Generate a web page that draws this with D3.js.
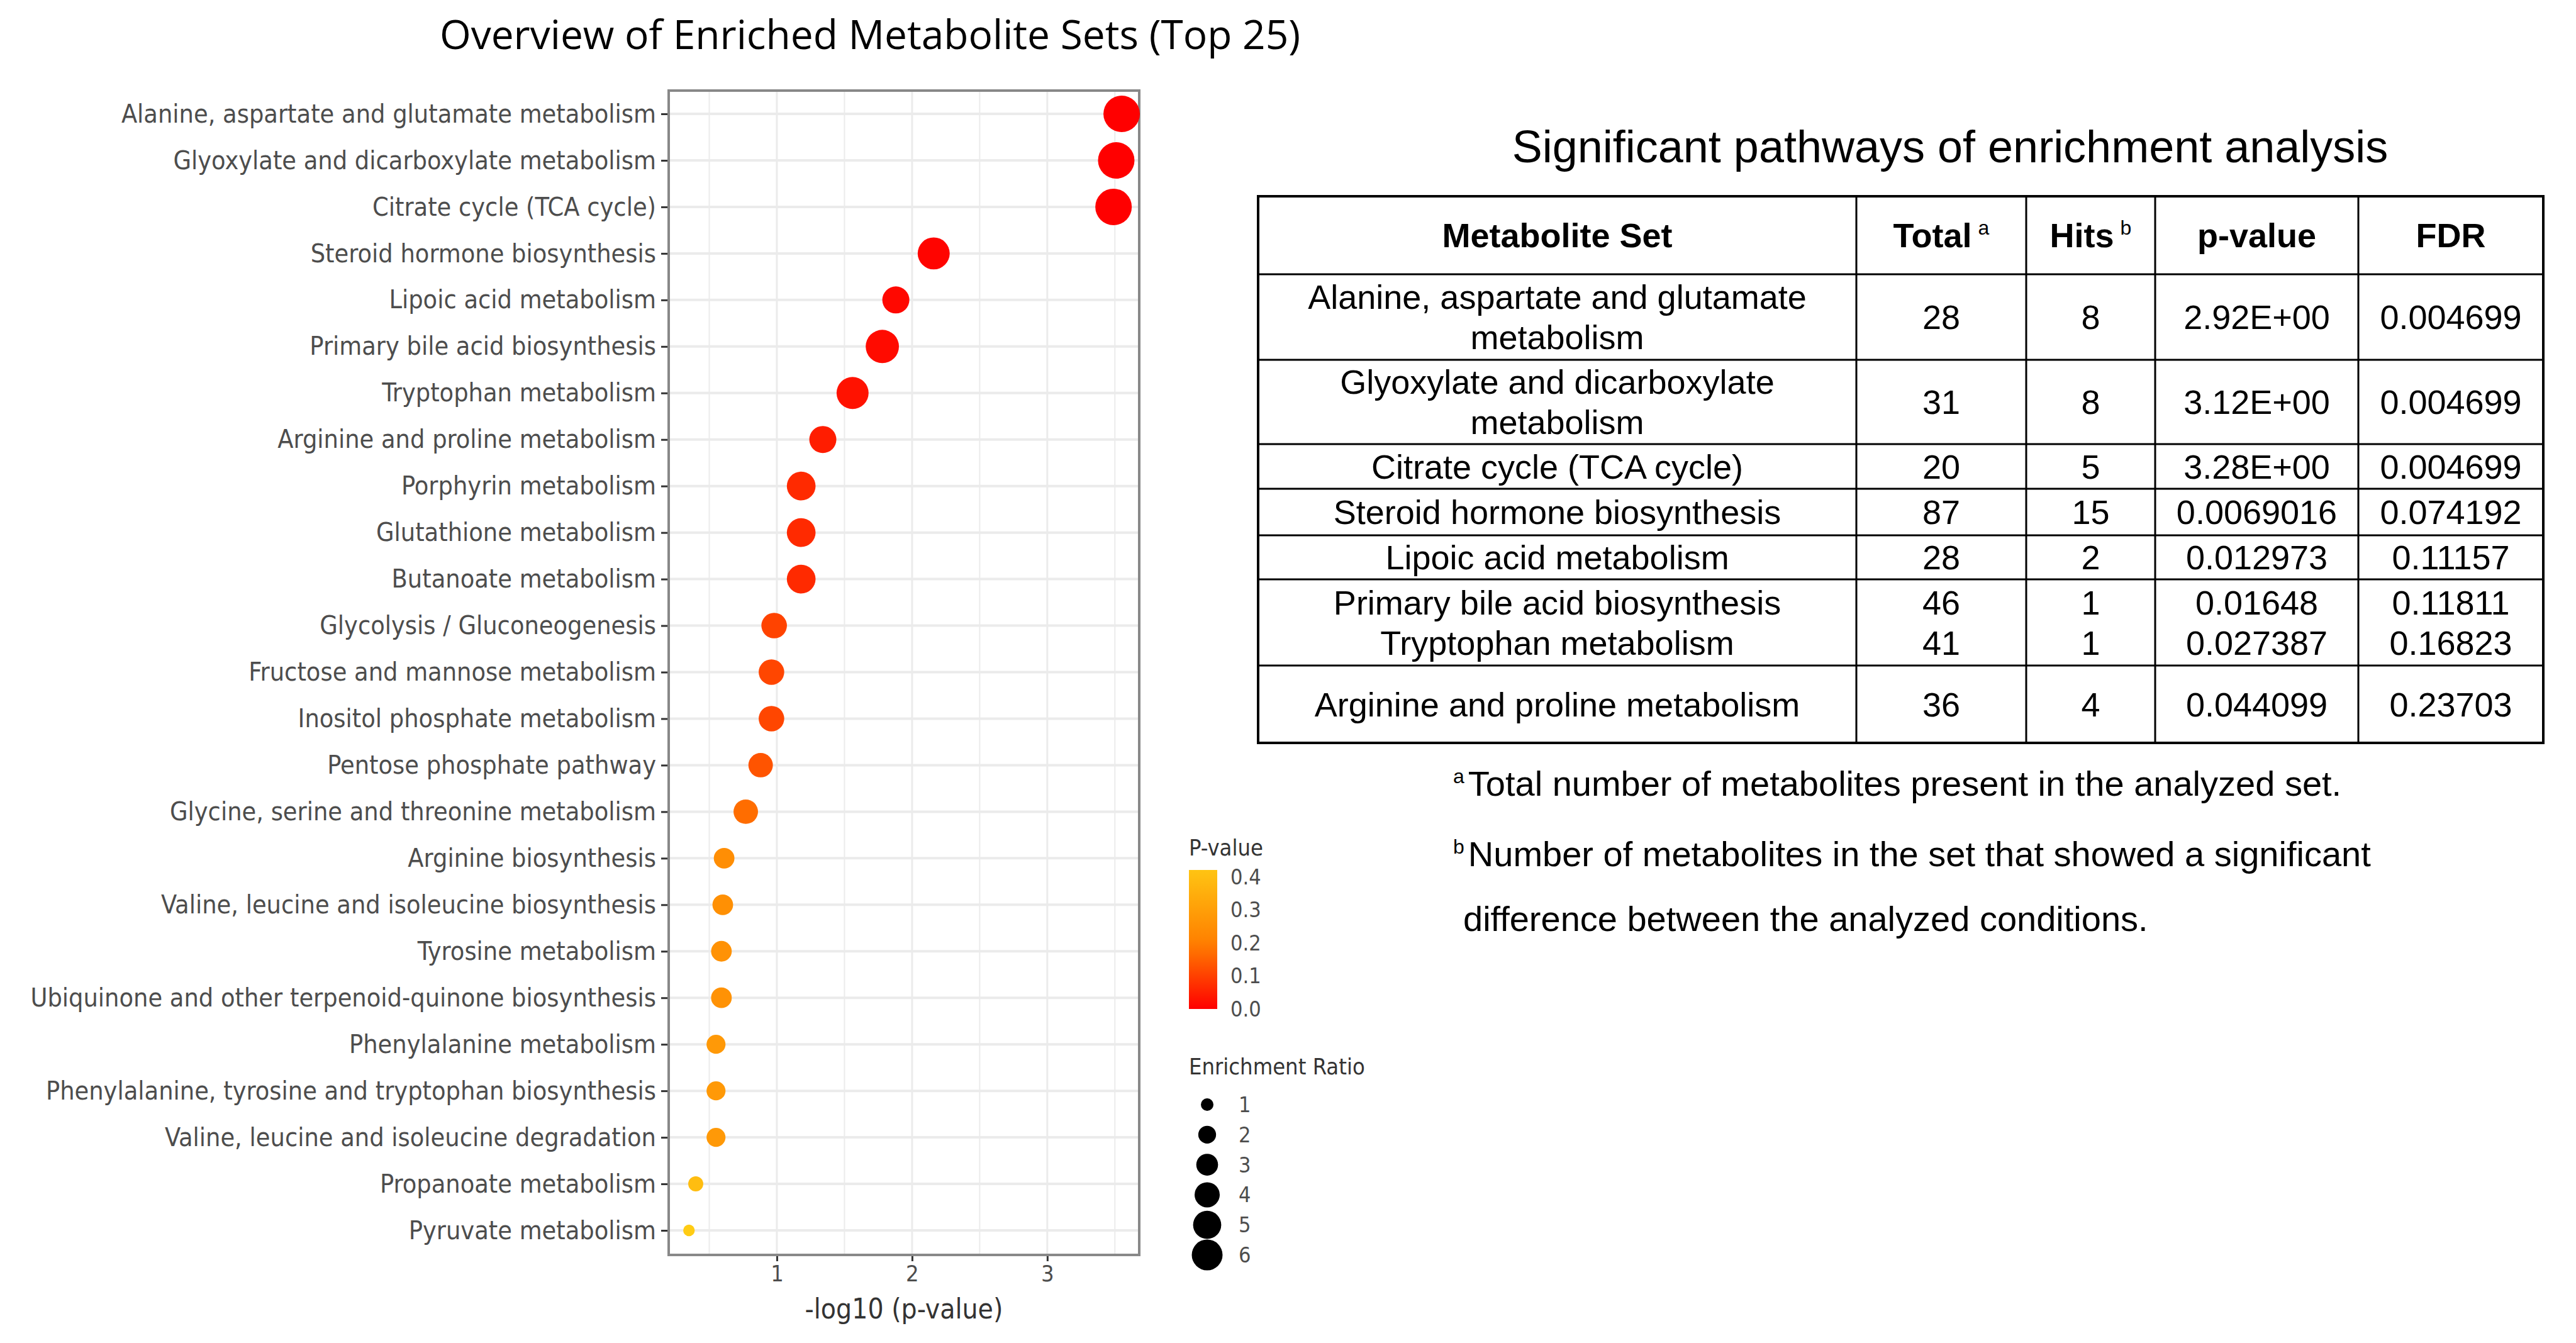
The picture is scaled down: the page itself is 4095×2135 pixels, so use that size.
<!DOCTYPE html>
<html>
<head>
<meta charset="utf-8">
<script src="https://cdn.jsdelivr.net/npm/d3@7"></script>
<style>
  body { margin: 0; background: #fff; }
  svg { display: block; }
</style>
</head>
<body>
<div id="plot"></div>
<script>
const W = 4095, H = 2135;

const pathways = ["Alanine, aspartate and glutamate metabolism", "Glyoxylate and dicarboxylate metabolism",
  "Citrate cycle (TCA cycle)", "Steroid hormone biosynthesis", "Lipoic acid metabolism",
  "Primary bile acid biosynthesis", "Tryptophan metabolism", "Arginine and proline metabolism",
  "Porphyrin metabolism", "Glutathione metabolism", "Butanoate metabolism",
  "Glycolysis / Gluconeogenesis", "Fructose and mannose metabolism", "Inositol phosphate metabolism",
  "Pentose phosphate pathway", "Glycine, serine and threonine metabolism", "Arginine biosynthesis",
  "Valine, leucine and isoleucine biosynthesis", "Tyrosine metabolism",
  "Ubiquinone and other terpenoid-quinone biosynthesis", "Phenylalanine metabolism",
  "Phenylalanine, tyrosine and tryptophan biosynthesis", "Valine, leucine and isoleucine degradation",
  "Propanoate metabolism", "Pyruvate metabolism"];
const negLogP = [3.55, 3.51, 3.49, 2.16, 1.88, 1.78, 1.56, 1.34, 1.18, 1.18, 1.18, 0.98, 0.96, 0.96,
  0.88, 0.77, 0.61, 0.60, 0.59, 0.59, 0.55, 0.55, 0.55, 0.40, 0.35];
const enrichment = [10, 10, 10, 7.7, 5.5, 8.3, 7.7, 5.5, 6.2, 6.2, 6.2, 4.9, 4.9, 4.9,
  4.5, 4.5, 3.2, 3.2, 3.2, 3.2, 2.7, 2.7, 2.7, 1.7, 1.0];
const xTicks = [1, 2, 3];
const pLegendTicks = [0.0, 0.1, 0.2, 0.3, 0.4];
const sizeLegend = [1, 2, 3, 4, 5, 6];

const tableHeader = ["Metabolite Set", "Total", "Hits", "p-value", "FDR"];
const tableSets = [["Alanine, aspartate and glutamate", "metabolism"], ["Glyoxylate and dicarboxylate", "metabolism"],
  ["Citrate cycle (TCA cycle)"], ["Steroid hormone biosynthesis"], ["Lipoic acid metabolism"],
  ["Primary bile acid biosynthesis", "Tryptophan metabolism"], ["Arginine and proline metabolism"]];
const tableTotal = [["28"], ["31"], ["20"], ["87"], ["28"], ["46", "41"], ["36"]];
const tableHits = [["8"], ["8"], ["5"], ["15"], ["2"], ["1", "1"], ["4"]];
const tablePval = [["2.92E+00"], ["3.12E+00"], ["3.28E+00"], ["0.0069016"], ["0.012973"], ["0.01648", "0.027387"], ["0.044099"]];
const tableFdr = [["0.004699"], ["0.004699"], ["0.004699"], ["0.074192"], ["0.11157"], ["0.11811", "0.16823"], ["0.23703"]];

const svg = d3.select("#plot").append("svg").attr("width", W).attr("height", H);

// ---- dot plot ----
const M = {left: 1063, right: 1811, top: 144, bottom: 1995};
const x = d3.scaleLinear().domain([0.2, 3.68]).range([M.left, M.right]);
const y = d3.scalePoint().domain(pathways).range([181, 1956]);
const r = d3.scaleSqrt().domain([0, 10]).range([0, 29]);
const color = d3.scaleLinear().domain([0, 0.2, 0.42]).range(["#ff0000", "#ff8000", "#ffc412"]);
const lf = "DejaVu Sans Condensed, DejaVu Sans";

svg.append("text").attr("x", 1383).attr("y", 78).attr("text-anchor", "middle")
  .attr("font-family", "Open Sans").attr("font-size", 64).text("Overview of Enriched Metabolite Sets (Top 25)");

const grid = svg.append("g");
d3.range(0.5, 3.6, 0.5).forEach(v => {
  grid.append("line").attr("x1", x(v)).attr("x2", x(v)).attr("y1", M.top).attr("y2", M.bottom)
    .attr("stroke", "#ebebeb").attr("stroke-width", Number.isInteger(v) ? 3 : 2);
});
pathways.forEach(p => {
  grid.append("line").attr("x1", M.left).attr("x2", M.right).attr("y1", y(p)).attr("y2", y(p))
    .attr("stroke", "#ebebeb").attr("stroke-width", 4);
});

svg.append("g").attr("transform", `translate(${M.left},0)`)
  .call(d3.axisLeft(y).tickSize(12).tickPadding(8))
  .call(g => g.select(".domain").remove())
  .call(g => g.selectAll("line").attr("stroke", "#333").attr("stroke-width", 3))
  .call(g => g.selectAll("text").attr("font-family", lf).attr("font-size", 41).attr("fill", "#4d4d4d"));

svg.append("g").attr("transform", `translate(0,${M.bottom})`)
  .call(d3.axisBottom(x).tickValues(xTicks).tickFormat(d3.format("d")).tickSize(10).tickPadding(6))
  .call(g => g.select(".domain").remove())
  .call(g => g.selectAll("line").attr("stroke", "#333").attr("stroke-width", 3))
  .call(g => g.selectAll("text").attr("font-family", lf).attr("font-size", 36).attr("fill", "#4d4d4d"));

svg.append("rect").attr("x", M.left).attr("y", M.top).attr("width", M.right - M.left).attr("height", M.bottom - M.top)
  .attr("fill", "none").attr("stroke", "#888").attr("stroke-width", 4);

svg.append("text").attr("x", (M.left + M.right) / 2).attr("y", 2096).attr("text-anchor", "middle")
  .attr("font-family", lf).attr("font-size", 44).attr("fill", "#333").text("-log10 (p-value)");

svg.append("g").selectAll("circle").data(pathways).join("circle")
  .attr("cx", (d, i) => x(negLogP[i])).attr("cy", d => y(d))
  .attr("r", (d, i) => r(enrichment[i]))
  .attr("fill", (d, i) => color(Math.pow(10, -negLogP[i])));

// ---- legends ----
svg.append("text").attr("x", 1890).attr("y", 1360).attr("font-family", lf).attr("font-size", 36).attr("fill", "#333").text("P-value");
const grad = svg.append("defs").append("linearGradient").attr("id", "pg").attr("x1", 0).attr("x2", 0).attr("y1", 1).attr("y2", 0);
d3.range(0, 1.01, 0.1).forEach(t => grad.append("stop").attr("offset", t).attr("stop-color", color(t * 0.42)));
const cb = d3.scaleLinear().domain([0, 0.42]).range([1604, 1383]);
svg.append("rect").attr("x", 1890).attr("y", 1383).attr("width", 45).attr("height", 221).attr("fill", "url(#pg)");
svg.append("g").selectAll("text").data(pLegendTicks).join("text")
  .attr("x", 1956).attr("y", d => cb(d) + 12).attr("font-family", lf).attr("font-size", 34).attr("fill", "#4d4d4d")
  .text(d => d.toFixed(1));

svg.append("text").attr("x", 1890).attr("y", 1708).attr("font-family", lf).attr("font-size", 36).attr("fill", "#333").text("Enrichment Ratio");
const ly = d3.scalePoint().domain(sizeLegend).range([1756, 1995]);
svg.append("g").selectAll("circle").data(sizeLegend).join("circle")
  .attr("cx", 1919).attr("cy", d => ly(d)).attr("r", d => 10 * Math.sqrt(d)).attr("fill", "#000");
svg.append("g").selectAll("text").data(sizeLegend).join("text")
  .attr("x", 1969).attr("y", d => ly(d) + 12).attr("font-family", lf).attr("font-size", 34).attr("fill", "#4d4d4d").text(d => d);

// ---- table ----
const tf = "Liberation Sans, Arial";
svg.append("text").attr("x", 3100).attr("y", 258).attr("text-anchor", "middle")
  .attr("font-family", tf).attr("font-size", 72).text("Significant pathways of enrichment analysis");

const colEdges = [2000, 2951, 3221, 3426, 3749, 4043];
const rowEdges = [312, 436, 572, 706, 777, 851, 921, 1058, 1181];
const tbl = svg.append("g");
tbl.append("rect").attr("x", colEdges[0]).attr("y", rowEdges[0]).attr("width", colEdges[5] - colEdges[0])
  .attr("height", rowEdges[8] - rowEdges[0]).attr("fill", "none").attr("stroke", "#000").attr("stroke-width", 4);
colEdges.slice(1, 5).forEach(c => tbl.append("line").attr("x1", c).attr("x2", c).attr("y1", rowEdges[0]).attr("y2", rowEdges[8]).attr("stroke", "#000").attr("stroke-width", 3));
rowEdges.slice(1, 8).forEach(rv => tbl.append("line").attr("x1", colEdges[0]).attr("x2", colEdges[5]).attr("y1", rv).attr("y2", rv).attr("stroke", "#000").attr("stroke-width", 3));

const colMid = i => (colEdges[i] + colEdges[i + 1]) / 2;
const sup = ["", "a", "b", "", ""];
tableHeader.forEach((h, i) => {
  const t = tbl.append("text").attr("x", colMid(i)).attr("y", (rowEdges[0] + rowEdges[1]) / 2 + 19)
    .attr("text-anchor", "middle").attr("font-family", tf).attr("font-size", 54).attr("font-weight", "bold").text(h);
  if (sup[i]) t.append("tspan").attr("dx", 10).attr("dy", -20).attr("font-size", 32).attr("font-weight", "normal").text(sup[i]);
});
const cols = [tableSets, tableTotal, tableHits, tablePval, tableFdr];
tableSets.forEach((row, ri) => {
  const mid = (rowEdges[ri + 1] + rowEdges[ri + 2]) / 2;
  cols.forEach((col, ci) => {
    const lines = col[ri];
    lines.forEach((txt, li) => {
      tbl.append("text").attr("x", colMid(ci)).attr("y", mid + 19 + (li - (lines.length - 1) / 2) * 64)
        .attr("text-anchor", "middle").attr("font-family", tf).attr("font-size", 54).text(txt);
    });
  });
});

const notes = [["a", "Total number of metabolites present in the analyzed set.", 1265],
  ["b", "Number of metabolites in the set that showed a significant", 1377]];
notes.forEach(n => {
  const t = svg.append("text").attr("x", 2310).attr("y", n[2]).attr("font-family", tf).attr("font-size", 56);
  t.append("tspan").attr("dy", -20).attr("font-size", 32).text(n[0]);
  t.append("tspan").attr("dy", 20).attr("dx", 6).text(n[1]);
});
svg.append("text").attr("x", 2326).attr("y", 1480).attr("font-family", tf).attr("font-size", 56).text("difference between the analyzed conditions.");
</script>
</body>
</html>
